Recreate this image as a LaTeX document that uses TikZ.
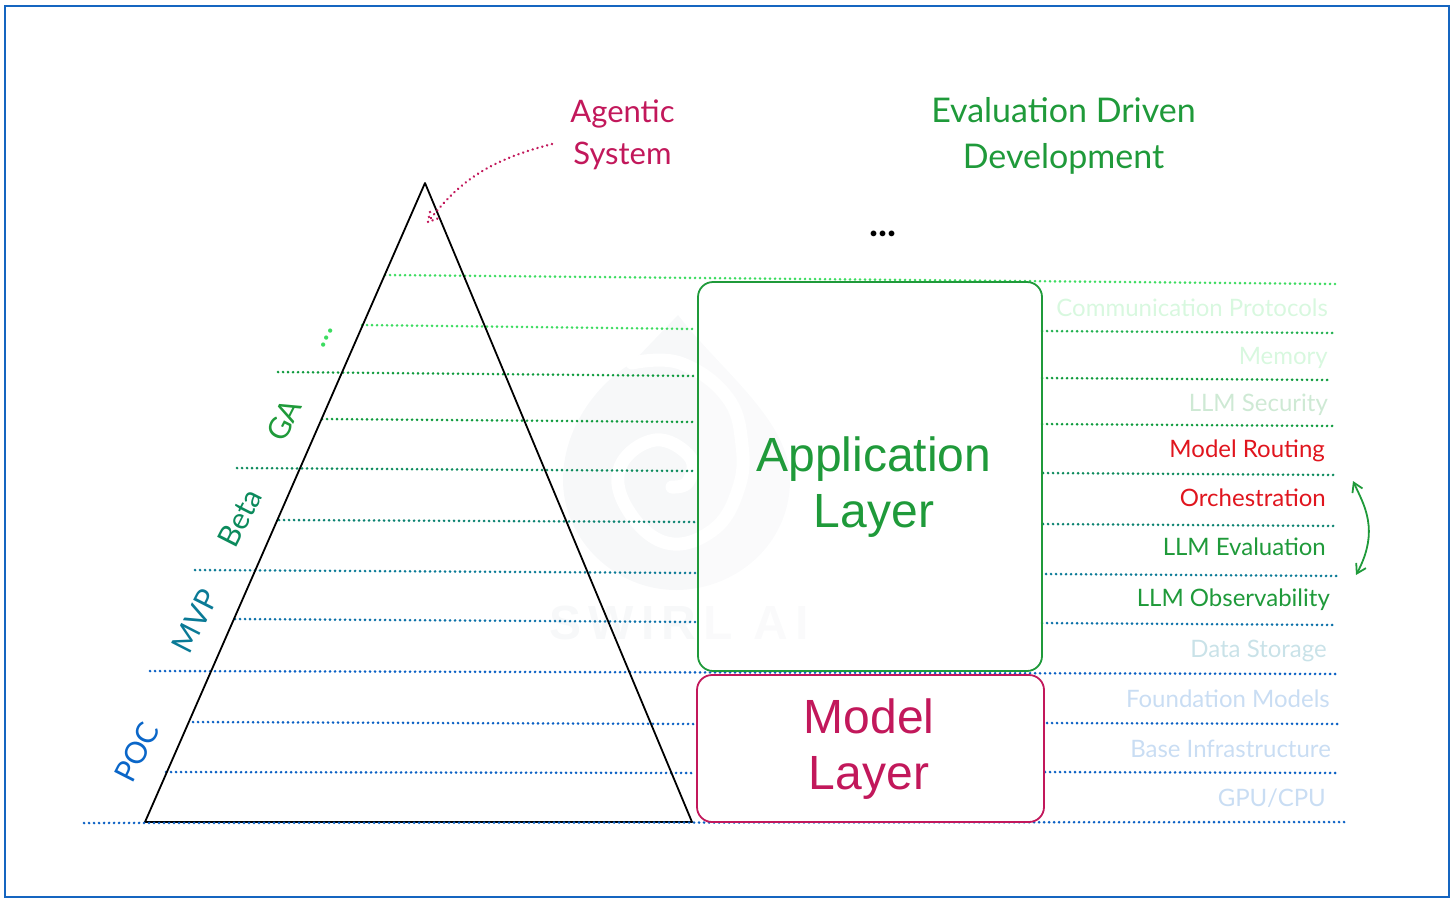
\documentclass[tikz,border=0pt]{standalone}
\usepackage{fontspec}
\setmainfont{Lato}
\newfontfamily\helv{Liberation Sans}
\newfontfamily\helvwide[LetterSpace=15]{Liberation Sans}
\usetikzlibrary{arrows.meta}
\definecolor{frameblue}{HTML}{1565C0}
\definecolor{pocblue}{HTML}{0A66C8}
\definecolor{appgreen}{HTML}{1F9A3A}
\definecolor{modelred}{HTML}{C2185B}
\definecolor{routered}{HTML}{E0151E}
\definecolor{wmark}{HTML}{F7F8F9}
\definecolor{ruleA}{HTML}{3CDC60}
\definecolor{ruleB}{HTML}{1FB04E}
\definecolor{ruleC}{HTML}{0D9A3C}
\definecolor{ruleD}{HTML}{0B8A5C}
\definecolor{ruleE}{HTML}{0A8270}
\definecolor{ruleF}{HTML}{0A7A96}
\definecolor{ruleG}{HTML}{0A70A8}
\definecolor{ruleH}{HTML}{0A60C4}
\tikzset{
  rulepath/.style={line width=2.8pt,line cap=round,dash pattern=on 0.1pt off 4.9pt},
  stack/.style={anchor=base east,inner sep=0pt,font=\fontsize{24}{24}\selectfont},
  phase/.style={font=\fontsize{30}{30}\selectfont,rotate=63},
  layerbox/.style={line width=1.8pt,rounded corners=15pt},
  layertext/.style={align=center,font=\helv\fontsize{48}{55.5}\selectfont},
  headtext/.style={align=center,font=\fontsize{34}{46}\selectfont}
}
\begin{document}
\begin{tikzpicture}[x=1pt,y=-1pt]
    \useasboundingbox (0,0) rectangle (1456,903);
    \draw[frameblue,line width=1.8pt] (5,6) rectangle (1449,897);
    % watermark
    \fill[wmark] (678,315) .. controls (720,370) and (790,420) .. (790,480)
      .. controls (790,545) and (735,590) .. (676,590)
      .. controls (615,590) and (563,540) .. (563,480)
      .. controls (563,430) and (595,385) .. (632,363) -- cycle;
    \draw[white,line width=13pt,line cap=round,line join=round] plot[smooth,tension=.7] coordinates
      {(632,363) (680,363) (727,397) (742,445) (738,490) (713,530) (667,543) (628,510) (620,467) (655,440) (690,457) (688,482) (672,487)};
    \node[wmark,font=\helvwide\bfseries\fontsize{48}{48}\selectfont] (brand) at (679,623) {SWIRL AI};
    % dotted levels
    \foreach \xa/\ya/\xb/\yb/\col in {
      362/325/695/329/ruleA, 1042/331/1335/333/ruleB,
      278/372/695/376/ruleC, 1042/378/1330/380/ruleC,
      322/419/695/422/ruleC, 1042/424/1336/426/ruleC,
      237/468/695/471/ruleD, 1043/473/1337/475/ruleD,
      279/520/695/522/ruleE, 1043/524/1337/526/ruleE,
      195/570/695/573/ruleF, 1046/574/1339/576/ruleF,
      235/619/695/622/ruleG, 1042/623/1335/625/ruleG,
      193/722/695/724/ruleH, 1047/723/1341/724/ruleH,
      166/772/695/773/ruleH, 1045/772/1339/773/ruleH,
      385/275/1335/284/ruleA, 150/671/1338/674/ruleH}
      \draw[rulepath,\col] (\xa,\ya) -- (\xb,\yb);
    % pyramid
    \coordinate (apex) at (425,183);
    \coordinate (baseL) at (145,822);
    \coordinate (baseR) at (692,822);
    \draw[line width=1.8pt,line join=round] (apex) -- (baseL) -- (baseR) -- cycle;
    \draw[rulepath,ruleH] (84,823) -- (1345,822);
    % layers
    \node[layerbox,draw=appgreen,fill=white,fill opacity=.4,draw opacity=1,text opacity=1,minimum width=344pt,minimum height=389pt] (app) at (870,476.5) {};
    \node[layerbox,draw=modelred,fill=white,minimum width=347pt,minimum height=147pt] (model) at (870.5,748.5) {};
    \node[layertext,appgreen] (apptext) at (874,487) {Application\\Layer};
    \node[layertext,modelred] (modeltext) at (869,749) {Model\\Layer};
    % top labels
    \node[headtext,modelred,font=\fontsize{31}{42}\selectfont] (agentic) at (622.5,135) {Agentic\\System};
    \node[headtext,appgreen] (edd) at (1063.5,136) {Evaluation Driven\\Development};
    \node[font=\bfseries\fontsize{38}{38}\selectfont] (more) at (883,234) {...};
    \coordinate (agentS) at (552,144);
    \coordinate (agentT) at (428,222);
    \coordinate (barbA) at (430,212);
    \coordinate (barbB) at (439,218);
    \draw[rulepath,modelred,line width=2.6pt] (agentS)
      .. controls (490,160) and (460,180) .. (agentT);
    \draw[rulepath,modelred,line width=2.6pt] (barbA) -- (agentT) -- (barbB);
    % phases
    \node[phase,pocblue] (poc) at (137,752) {POC};
    \node[phase,ruleF] (mvp) at (195,621) {MVP};
    \node[phase,ruleD] (beta) at (240,518) {Beta};
    \node[phase,appgreen] (ga) at (284,420) {GA};
    \node[phase,ruleA,font=\fontsize{34}{34}\selectfont] (dots) at (327,338) {...};
    % stack
    \node[stack,ruleA!20] (comm) at (1328,316) {Communication Protocols};
    \node[stack,ruleA!20] (memory) at (1328,364) {Memory};
    \node[stack,appgreen!22] (security) at (1328,411) {LLM Security};
    \node[stack,routered] (routing) at (1325,457) {Model Routing};
    \node[stack,routered] (orch) at (1326,506) {Orchestration};
    \node[stack,appgreen] (eval) at (1326,555) {LLM Evaluation};
    \node[stack,appgreen] (obs) at (1330,606) {LLM Observability};
    \node[stack,ruleF!22] (storage) at (1327,657) {Data Storage};
    \node[stack,pocblue!22] (found) at (1330,707) {Foundation Models};
    \node[stack,pocblue!22] (infra) at (1331,757) {Base Infrastructure};
    \node[stack,pocblue!22] (gpu) at (1326,806) {GPU/CPU};
    \coordinate (loopT) at (1353,481);
    \coordinate (loopB) at (1356,575);
    \draw[appgreen,line width=1.8pt,{Straight Barb[length=9pt,width=11pt]}-{Straight Barb[length=9pt,width=11pt]}] (loopT)
      .. controls (1364,505) and (1380,530) .. (loopB);
  \end{tikzpicture}
\end{document}
